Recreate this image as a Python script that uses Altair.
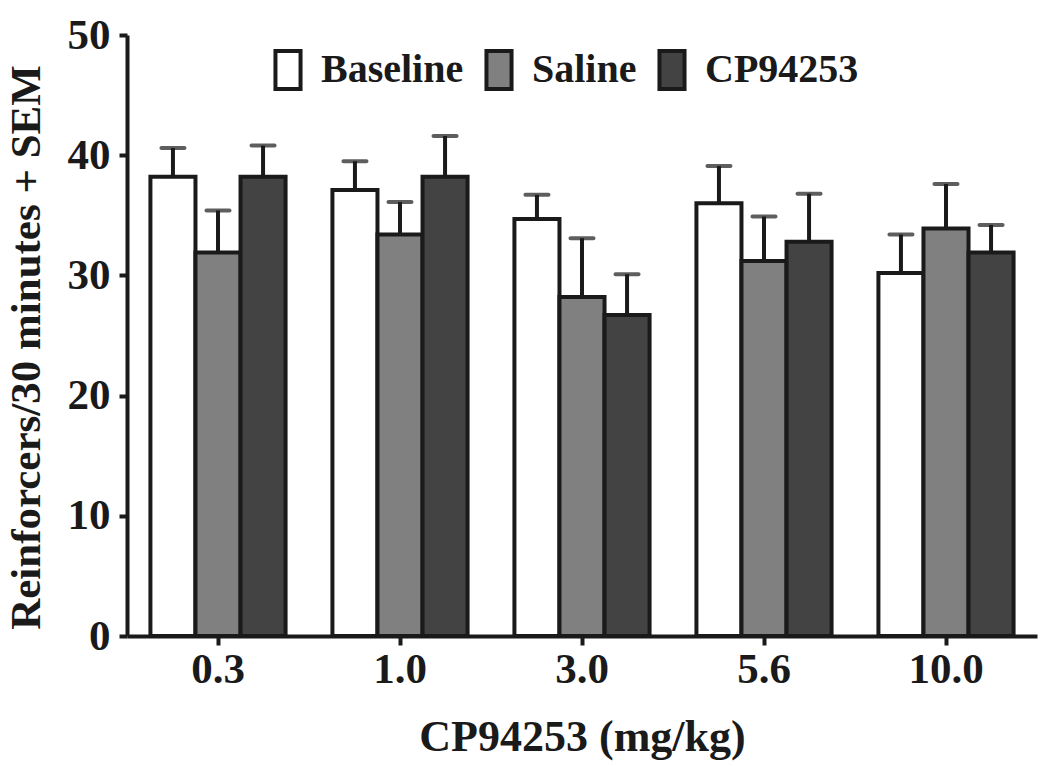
import altair as alt
import pandas as pd

doses = ["0.3", "1.0", "3.0", "5.6", "10.0"]
groups = ["Baseline", "Saline", "CP94253"]
baseline = [38.2, 37.1, 34.7, 36.0, 30.2]
baseline_sem = [2.4, 2.4, 2.0, 3.1, 3.2]
saline = [31.9, 33.4, 28.2, 31.2, 33.9]
saline_sem = [3.5, 2.7, 4.9, 3.7, 3.7]
cp = [38.2, 38.2, 26.7, 32.8, 31.9]
cp_sem = [2.6, 3.4, 3.4, 4.0, 2.3]

rows = []
for g, vals, sems in zip(groups, [baseline, saline, cp], [baseline_sem, saline_sem, cp_sem]):
    for d, v, s in zip(doses, vals, sems):
        rows.append({"dose": d, "group": g, "value": v, "top": v + s})
df = pd.DataFrame(rows)

FONT = "Liberation Serif"
INK = "#1a1a1a"

x = alt.X("dose:N", sort=doses, title="CP94253 (mg/kg)",
          scale=alt.Scale(paddingInner=0, paddingOuter=0),
          axis=alt.Axis(labelAngle=0, labelFont=FONT, labelFontSize=43, labelFontWeight="bold",
                        labelColor=INK, labelPadding=3, tickSize=9, tickWidth=4, tickColor=INK,
                        domainColor=INK, domainWidth=4, titleFont=FONT, titleFontSize=44,
                        titleFontWeight="bold", titleColor=INK, titlePadding=24))
xo = alt.XOffset("group:N", sort=groups, scale=alt.Scale(paddingOuter=0.52, paddingInner=0))

base = alt.Chart(df)

bars = base.mark_bar(stroke=INK, strokeWidth=4).encode(
    x=x, xOffset=xo,
    y=alt.Y("value:Q", title="Reinforcers/30 minutes + SEM",
            scale=alt.Scale(domain=[0, 50], nice=False),
            axis=alt.Axis(values=[0, 10, 20, 30, 40, 50], grid=False, labelFont=FONT,
                          labelFontSize=43, labelFontWeight="bold", labelColor=INK,
                          labelPadding=9, tickSize=8, tickWidth=4, tickColor=INK,
                          domainColor=INK, domainWidth=4, titleFont=FONT, titleFontSize=43,
                          titleFontWeight="bold", titleColor=INK, titleX=-101, titleY=312,
                          titleAngle=-90, titleBaseline="middle", titleAlign="center")),
    fill=alt.Fill("group:N", sort=groups,
                  scale=alt.Scale(domain=groups, range=["#ffffff", "#808080", "#434343"]),
                  legend=alt.Legend(title=None, orient="none", direction="horizontal",
                                    legendX=140, legendY=14, padding=0,
                                    symbolType="M-0.66,-1H0.66V1H-0.66Z", symbolSize=1444,
                                    symbolStrokeColor=INK, symbolStrokeWidth=4,
                                    labelFont=FONT, labelFontSize=40, labelFontWeight="bold",
                                    labelColor=INK, labelOffset=12, columnPadding=14,
                                    labelLimit=300)),
)

stems = base.mark_rule(color=INK, strokeWidth=4).encode(
    x=x, xOffset=xo, y="value:Q", y2="top:Q")

caps = base.mark_tick(color=INK, thickness=4, size=27, cornerRadius=2).encode(
    x=x, xOffset=xo, y="top:Q")

chart = alt.layer(bars, stems, caps).properties(
    width=910, height=601,
    background="white",
    autosize=alt.AutoSizeParams(type="none"),
    padding={"left": 119, "top": 27, "right": 4, "bottom": 128},
).configure_view(stroke=None)

chart.save("out.html", embed_options={"renderer": "svg", "actions": False})
